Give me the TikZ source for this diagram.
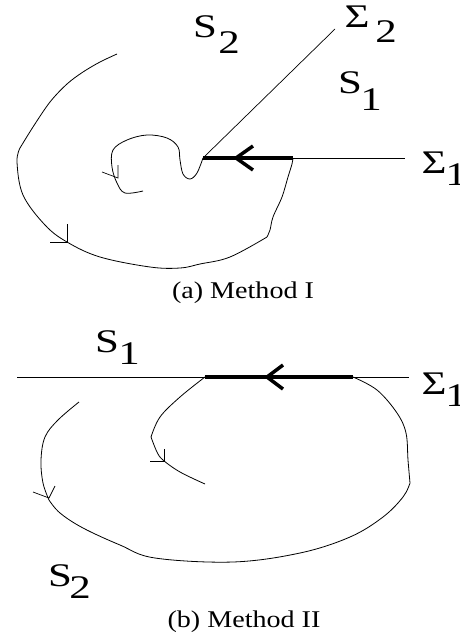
\documentclass[tikz,border=0pt]{standalone}
\usepackage{fontspec}
\setmainfont{Liberation Serif}
\begin{document}
\begin{tikzpicture}[x=1pt,y=-1pt,
  lab/.style={inner sep=0pt, font=\fontsize{33}{33}\selectfont},
  captext/.style={inner sep=0pt, font=\fontsize{24}{24}\selectfont},
  curve/.style={line width=0.8pt, line join=round},
  ray/.style={line width=0.7pt},
  cutline/.style={line width=4pt},
  chev/.style={line width=3.5pt, line join=miter},
  tickmark/.style={line width=0.7pt}]
\useasboundingbox (0,0) rectangle (460,634);
\newcommand{\wide}[1]{\scalebox{1.3}[1]{#1}}
% ---------- (a) Method I ----------
\coordinate (O1) at (203,158);
\coordinate (E1) at (293,158);
\coordinate (R1) at (405,158);
\coordinate (T2) at (335,29);
\draw[ray] (O1) -- (T2);
\draw[ray] (E1) -- (R1);
\draw[cutline] (O1) -- (E1);
\draw[chev] (253,146) -- (236,158) -- (253,170);
% inner spiral
\draw[curve] plot[smooth, tension=0.6] coordinates {(143,191) (125,193) (117,183) (112,167) (113,150) (127,140) (147,135) (167,138) (178,147) (180,160) (183,174) (190,179) (197,173) (O1)};
\draw[tickmark] (102,172) -- (118,178) -- (118,165);
% outer curve
\draw[curve] plot[smooth, tension=0.55] coordinates {(117,54) (100,62) (83,72) (67,84) (50,102) (33,127) (20,148)}
  plot[smooth, tension=0.6] coordinates {(20,148) (17,162) (23,195) (45,225) (67,242) (100,257) (150,267) (180,268) (200,264) (230,257) (267,237)}
  plot[smooth, tension=0.55] coordinates {(267,237) (270,230) (273,217) (282,197) (288,177) (292,164) (E1)};
\draw[tickmark] (67,224) -- (67,242) -- (50,242);
% labels
\node[lab] (s2a) at (205,27) {\wide{S}};
\node[lab] (s2an) at (229,43) {\wide{2}};
\node[lab] (sig2) at (357,17) {\wide{Σ}};
\node[lab] (sig2n) at (386,32) {\wide{2}};
\node[lab] (s1a) at (350,83) {\wide{S}};
\node[lab] (s1an) at (371,100) {\wide{1}};
\node[lab] (sig1a) at (434,163) {\wide{Σ}};
\node[lab] (sig1an) at (456,175) {\wide{1}};
\node[captext] (capa) at (243,293) {\scalebox{1.17}[1]{(a) Method I}};
% ---------- (b) Method II ----------
\coordinate (L2) at (17,377);
\coordinate (O2) at (205,377);
\coordinate (E2) at (353,377);
\coordinate (R2) at (409,377);
\draw[ray] (L2) -- (R2);
\draw[cutline] (O2) -- (E2);
\draw[chev] (283,365) -- (267,377) -- (283,389);
% inner curve
\draw[curve] plot[smooth, tension=0.6] coordinates {(O2) (180,397) (160,417) (151,437)}
  plot[smooth, tension=0.6] coordinates {(151,437) (157,452) (163,460) (180,472) (205,484)};
\draw[tickmark] (150,461) -- (164,461) -- (164,449);
% outer curve
\draw[curve] plot[smooth, tension=0.6] coordinates {(E2) (377,390) (397,413) (406,433) (408,460) (410,483)}
  plot[smooth, tension=0.6] coordinates {(410,483) (403,497) (383,517) (350,537) (300,553) (233,562) (155,558) (120,545) (83,528) (60,513) (49,500)}
  plot[smooth, tension=0.6] coordinates {(49,500) (43,483) (41,460) (45,437) (58,420) (79,402)};
\draw[tickmark] (55,486) -- (49,498) -- (33,492);
% labels
\node[lab] (s1b) at (107,342) {\wide{S}};
\node[lab] (s1bn) at (129,354) {\wide{1}};
\node[lab] (sig1b) at (434,384) {\wide{Σ}};
\node[lab] (sig1bn) at (456,396) {\wide{1}};
\node[lab] (s2b) at (60,576) {\wide{S}};
\node[lab] (s2bn) at (80,588) {\wide{2}};
\node[captext] (capb) at (244,622) {\scalebox{1.17}[1]{(b) Method II}};
\end{tikzpicture}
\end{document}
